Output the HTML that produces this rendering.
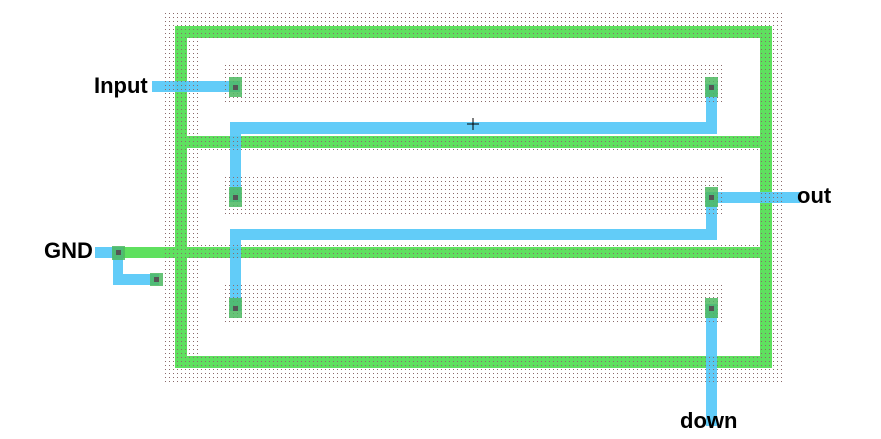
<!DOCTYPE html>
<html><head><meta charset="utf-8"><style>
html,body{margin:0;padding:0;background:#fff;}
svg{display:block;}
text{font-family:"Liberation Sans",sans-serif;font-weight:bold;font-size:22px;fill:#000;}
</style></head><body>
<svg width="881" height="439" viewBox="0 0 881 439" xmlns="http://www.w3.org/2000/svg">
<defs>
<pattern id="dots" width="4" height="4" patternUnits="userSpaceOnUse">
<rect x="1" y="1" width="1" height="1" fill="#8a6a6a"/>
</pattern>
<mask id="m">
<rect x="162" y="12" width="622" height="370" fill="#fff"/>
<rect x="200" y="40" width="559" height="95" fill="#000"/>
<rect x="200" y="150" width="559" height="95" fill="#000"/>
<rect x="200" y="260" width="559" height="95" fill="#000"/>
<rect x="222" y="65" width="503" height="40" fill="#fff"/>
<rect x="222" y="177" width="503" height="40" fill="#fff"/>
<rect x="222" y="285" width="503" height="40" fill="#fff"/>
</mask>
</defs>
<g fill="#5fe05f">
<rect x="175" y="26" width="597" height="12"/>
<rect x="175" y="356" width="597" height="12"/>
<rect x="175" y="26" width="12" height="342"/>
<rect x="760" y="26" width="12" height="342"/>
<rect x="175" y="136" width="597" height="12"/>
<rect x="112" y="247" width="660" height="11"/>
</g>
<g fill="#55c8f8" opacity="0.92">
<rect x="152" y="81" width="88" height="11"/>
<rect x="706" y="84" width="11" height="50"/>
<rect x="230" y="122" width="487" height="12"/>
<rect x="230" y="122" width="11" height="80"/>
<rect x="706" y="192" width="94" height="11"/>
<rect x="706" y="192" width="11" height="48"/>
<rect x="230" y="229" width="487" height="11"/>
<rect x="230" y="229" width="11" height="82"/>
<rect x="706" y="304" width="11" height="122"/>
<rect x="95" y="247" width="28" height="11"/>
<rect x="113" y="247" width="10" height="38"/>
<rect x="113" y="274" width="46" height="11"/>
</g>
<rect x="162" y="12" width="622" height="370" fill="url(#dots)" mask="url(#m)"/>
<g>
<rect x="229" y="77" width="13" height="20" fill="#4cb860" opacity="0.85"/><rect x="233" y="85" width="5" height="5" fill="#555"/>
<rect x="705" y="77" width="13" height="20" fill="#4cb860" opacity="0.85"/><rect x="709" y="85" width="5" height="5" fill="#555"/>
<rect x="229" y="187" width="13" height="20" fill="#4cb860" opacity="0.85"/><rect x="233" y="195" width="5" height="5" fill="#555"/>
<rect x="705" y="187" width="13" height="20" fill="#4cb860" opacity="0.85"/><rect x="709" y="195" width="5" height="5" fill="#555"/>
<rect x="229" y="298" width="13" height="20" fill="#4cb860" opacity="0.85"/><rect x="233" y="306" width="5" height="5" fill="#555"/>
<rect x="705" y="298" width="13" height="20" fill="#4cb860" opacity="0.85"/><rect x="709" y="306" width="5" height="5" fill="#555"/>
<rect x="112" y="246" width="13" height="14" fill="#4cb860" opacity="0.85"/><rect x="116" y="250" width="5" height="5" fill="#555"/>
<rect x="150" y="273" width="13" height="13" fill="#4cb860" opacity="0.85"/><rect x="154" y="277" width="5" height="5" fill="#555"/>
</g>
<path d="M467 124 H479 M473 118 V130" stroke="#000" stroke-width="1"/>
<text x="94" y="93">Input</text>
<text x="44" y="258">GND</text>
<text x="797" y="203">out</text>
<text x="680" y="428">down</text>
</svg>
</body></html>
